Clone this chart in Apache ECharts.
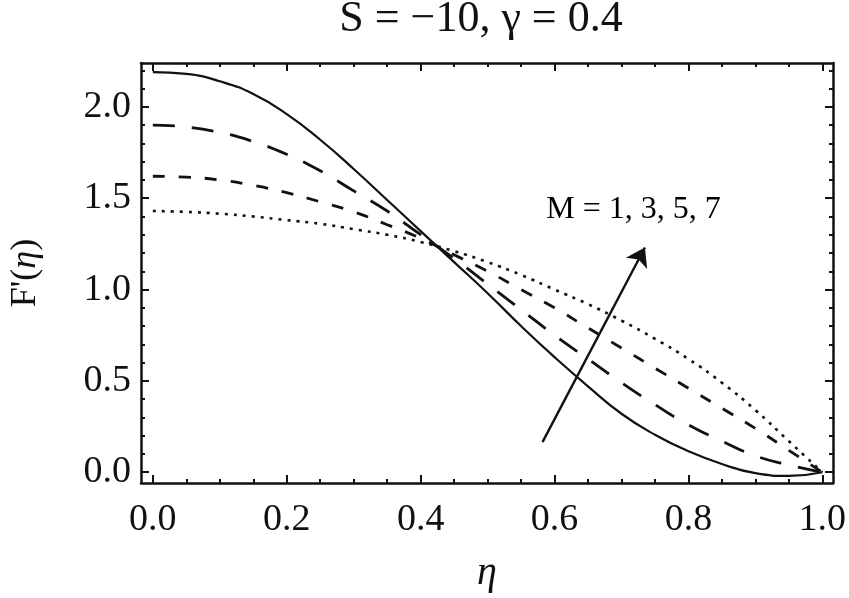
<!DOCTYPE html>
<html>
<head>
<meta charset="utf-8">
<script src="https://cdn.jsdelivr.net/npm/echarts@6/dist/echarts.min.js"></script>
<style>
  html, body { margin: 0; padding: 0; background: #fff; }
  #chart { width: 849px; height: 598px; }
</style>
</head>
<body>
<div id="chart"></div>
<script>
// ---- data ----
const eta = [0, 0.05, 0.1, 0.15, 0.2, 0.25, 0.3, 0.35, 0.4, 0.45, 0.5,
             0.55, 0.6, 0.65, 0.7, 0.75, 0.8, 0.85, 0.9, 0.95, 1.0];
const fM1 = [2.19, 2.18, 2.14, 2.07, 1.96, 1.82, 1.66, 1.49, 1.32, 1.15, 0.98,
             0.80, 0.63, 0.47, 0.32, 0.205, 0.115, 0.045, -0.005, -0.02, 0.0];
const fM3 = [1.90, 1.89, 1.86, 1.81, 1.74, 1.65, 1.54, 1.43, 1.30, 1.17, 1.03,
             0.89, 0.75, 0.62, 0.49, 0.37, 0.26, 0.17, 0.09, 0.04, 0.0];
const fM5 = [1.62, 1.615, 1.60, 1.57, 1.53, 1.48, 1.425, 1.355, 1.28, 1.19, 1.10,
             1.00, 0.90, 0.79, 0.68, 0.57, 0.46, 0.35, 0.24, 0.12, 0.0];
const fM7 = [1.43, 1.425, 1.415, 1.40, 1.38, 1.36, 1.33, 1.30, 1.26, 1.21, 1.15,
             1.08, 1.00, 0.92, 0.83, 0.73, 0.62, 0.49, 0.34, 0.17, 0.0];

const xMajorTicks = [0, 0.2, 0.4, 0.6, 0.8, 1.0];
const xMinorTicks = [0.05, 0.1, 0.15, 0.25, 0.3, 0.35, 0.45, 0.5, 0.55, 0.65, 0.7, 0.75, 0.85, 0.9, 0.95];
const yMajorTicks = [0, 0.5, 1.0, 1.5, 2.0];
const yMinorTicks = [0.1, 0.2, 0.3, 0.4, 0.6, 0.7, 0.8, 0.9, 1.1, 1.2, 1.3, 1.4, 1.6, 1.7, 1.8, 1.9, 2.1, 2.2];

const xRange = [-0.0177, 1.016];
const yRange = [-0.059, 2.24];

const arrowFrom = [0.582, 0.165];
const arrowTo = [0.735, 1.23];
const annotationPoint = [0.718, 1.44];
const annotationText = 'M = 1, 3, 5, 7';
const titleText = 'S = \u221210, \u03b3 = 0.4';

// ---- chart ----
const FONT = 'Liberation Serif';
const INK = '#111';
const chart = echarts.init(document.getElementById('chart'), null, { renderer: 'canvas' });

function pairs(xs, ys) { return xs.map((x, i) => [x, ys[i]]); }

function xAxisDef(pos, major, showLabel, showLine) {
  return {
    type: 'value', position: pos, min: xRange[0], max: xRange[1],
    axisLine: { show: showLine, onZero: false, lineStyle: { color: INK, width: 2.5 } },
    axisTick: { show: true, inside: true, length: major ? 8 : 4,
                customValues: major ? xMajorTicks : xMinorTicks,
                lineStyle: { color: INK, width: 2 } },
    axisLabel: { show: showLabel, customValues: xMajorTicks, margin: 18,
                 formatter: v => v.toFixed(1),
                 color: INK, fontFamily: FONT, fontSize: 38 },
    splitLine: { show: false }
  };
}
function yAxisDef(pos, major, showLabel, showLine) {
  return {
    type: 'value', position: pos, min: yRange[0], max: yRange[1],
    axisLine: { show: showLine, onZero: false, lineStyle: { color: INK, width: 2.5 } },
    axisTick: { show: true, inside: true, length: major ? 8 : 4,
                customValues: major ? yMajorTicks : yMinorTicks,
                lineStyle: { color: INK, width: 2 } },
    axisLabel: { show: showLabel, customValues: yMajorTicks, margin: 10,
                 formatter: v => v.toFixed(1),
                 color: INK, fontFamily: FONT, fontSize: 38 },
    splitLine: { show: false }
  };
}

const xAxes = [
  xAxisDef('bottom', true, true, true),
  xAxisDef('bottom', false, false, false),
  xAxisDef('top', true, false, true),
  xAxisDef('top', false, false, false)
];
xAxes[0].name = '\u03b7';
xAxes[0].nameLocation = 'middle';
xAxes[0].nameGap = 70;
xAxes[0].nameTextStyle = { fontFamily: FONT, fontStyle: 'italic', fontSize: 40, color: INK };

const yAxes = [
  yAxisDef('left', true, true, true),
  yAxisDef('left', false, false, false),
  yAxisDef('right', true, false, true),
  yAxisDef('right', false, false, false)
];
yAxes[0].name = "{a|F'(}{b|\u03b7}{a|)}";
yAxes[0].nameLocation = 'middle';
yAxes[0].nameGap = 97;
yAxes[0].nameRotate = 90;
yAxes[0].nameTextStyle = {
  color: INK,
  rich: {
    a: { fontFamily: FONT, fontSize: 36, color: INK },
    b: { fontFamily: FONT, fontSize: 36, fontStyle: 'italic', color: INK }
  }
};

function curve(name, ys, type, width) {
  return {
    name, type: 'line', data: pairs(eta, ys),
    xAxisIndex: 0, yAxisIndex: 0,
    symbol: 'none', smooth: 0.5, clip: false,
    lineStyle: { color: INK, width, type },
    silent: true
  };
}

const option = {
  animation: false,
  backgroundColor: '#fff',
  grid: { left: 137, right: 12, top: 63, bottom: 104, containLabel: false },
  graphic: [{
    type: 'text', x: 481, y: 19,
    style: { text: titleText, fontFamily: FONT, fontSize: 44, fill: INK,
             textAlign: 'center', textVerticalAlign: 'middle' }
  }],
  xAxis: xAxes,
  yAxis: yAxes,
  series: [
    curve('M = 1', fM1, 'solid', 2.2),
    curve('M = 3', fM3, [22, 17], 2.8),
    curve('M = 5', fM5, [12, 14], 2.8),
    curve('M = 7', fM7, [3, 6], 2.6),
    {
      name: 'annotation', type: 'scatter', xAxisIndex: 0, yAxisIndex: 0,
      data: [annotationPoint], symbolSize: 1, silent: true,
      itemStyle: { opacity: 0 },
      label: { show: true, position: 'inside', formatter: annotationText,
               fontFamily: FONT, fontSize: 32, color: '#000', opacity: 1 },
      emphasis: { disabled: true }
    },
    {
      name: 'arrow', type: 'line', xAxisIndex: 0, yAxisIndex: 0,
      data: [], silent: true, symbol: 'none',
      markLine: {
        silent: true, symbol: ['none', 'arrow'], symbolSize: 18,
        label: { show: false },
        lineStyle: { color: INK, width: 2.4, type: 'solid' },
        itemStyle: { color: INK },
        data: [[{ coord: arrowFrom }, { coord: arrowTo }]]
      }
    }
  ]
};
chart.setOption(option);
</script>
</body>
</html>
